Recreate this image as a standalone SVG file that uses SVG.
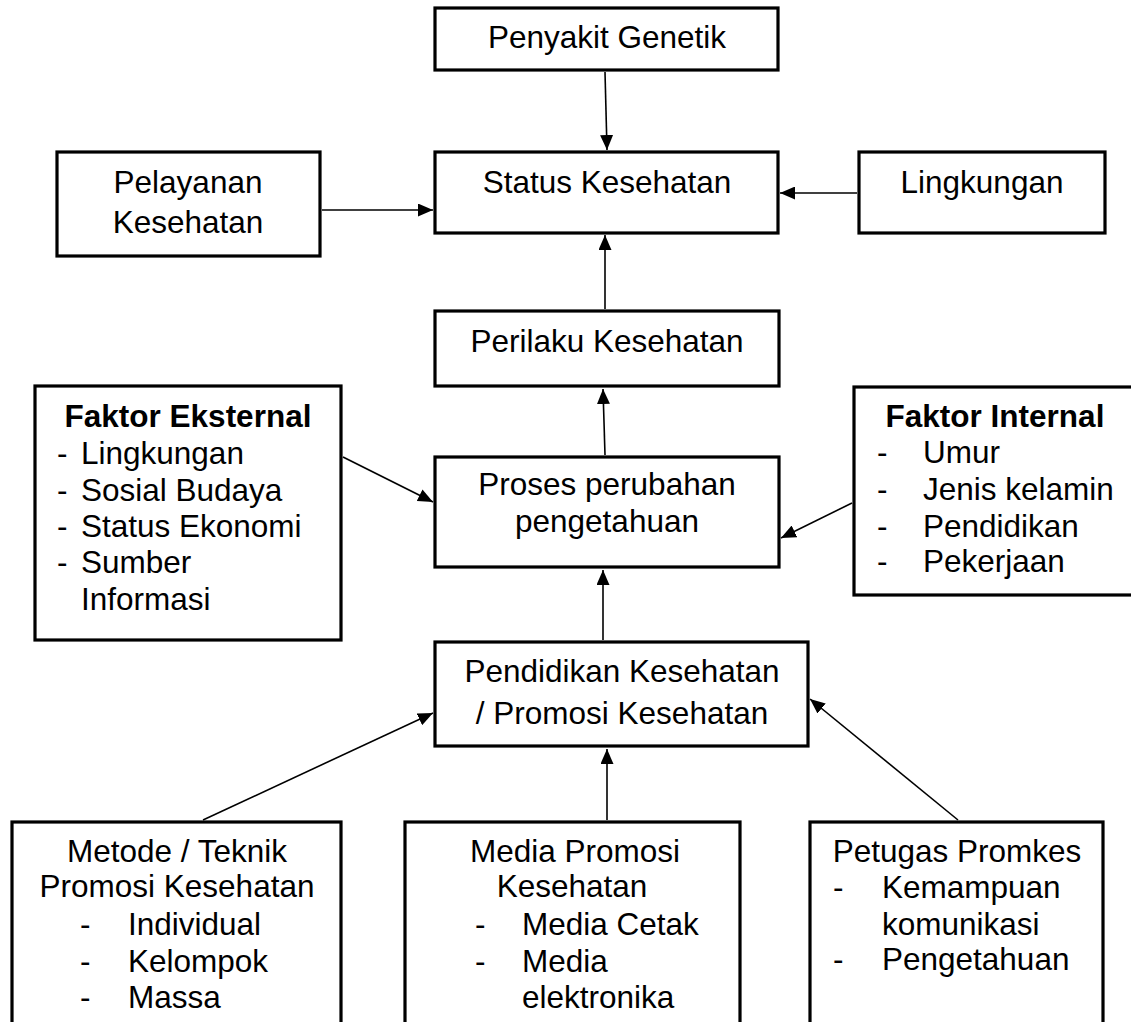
<svg xmlns="http://www.w3.org/2000/svg" width="1131" height="1022" viewBox="0 0 1131 1022">
<defs>
<marker id="arr" markerUnits="userSpaceOnUse" markerWidth="16" markerHeight="13" refX="15" refY="6.5" orient="auto">
<path d="M0,0 L15,6.5 L0,13 z" fill="#000"/>
</marker>
<style>
.box{fill:#fff;stroke:#000;stroke-width:3.2}
.t{font-family:"Liberation Sans",Arial,sans-serif;font-size:31.5px;fill:#000}
.c{text-anchor:middle}
.b{font-weight:bold}
.ln{stroke:#000;stroke-width:1.6;fill:none;marker-end:url(#arr)}
</style>
</defs>
<rect width="1131" height="1022" fill="#fff"/>
<g id="connectors">
<line class="ln" x1="605" y1="72" x2="607" y2="150"/>
<line class="ln" x1="322" y1="210" x2="433" y2="210"/>
<line class="ln" x1="857" y1="193" x2="780" y2="193"/>
<line class="ln" x1="605" y1="309" x2="605" y2="235"/>
<line class="ln" x1="605" y1="455" x2="603" y2="389"/>
<line class="ln" x1="343" y1="457" x2="433" y2="502"/>
<line class="ln" x1="852" y1="503" x2="781" y2="538"/>
<line class="ln" x1="603" y1="640" x2="603" y2="570"/>
<line class="ln" x1="203" y1="820" x2="433" y2="713"/>
<line class="ln" x1="607" y1="820" x2="607" y2="749"/>
<line class="ln" x1="958" y1="820" x2="810" y2="699"/>
</g>
<g id="penyakit">
<rect class="box" x="435" y="8" width="343" height="62"/>
<text class="t c" x="607" y="48">Penyakit Genetik</text>
</g>
<g id="status">
<rect class="box" x="435" y="152" width="343" height="81"/>
<text class="t c" x="607" y="193">Status Kesehatan</text>
</g>
<g id="pelayanan">
<rect class="box" x="57" y="152" width="263" height="104"/>
<text class="t c" x="188" y="193">Pelayanan</text>
<text class="t c" x="188" y="233">Kesehatan</text>
</g>
<g id="lingkungan">
<rect class="box" x="859" y="152" width="246" height="81"/>
<text class="t c" x="982" y="193">Lingkungan</text>
</g>
<g id="perilaku">
<rect class="box" x="435" y="311" width="344" height="75"/>
<text class="t c" x="607" y="352">Perilaku Kesehatan</text>
</g>
<g id="proses">
<rect class="box" x="435" y="457" width="344" height="110"/>
<text class="t c" x="607" y="495">Proses perubahan</text>
<text class="t c" x="607" y="532">pengetahuan</text>
</g>
<g id="pendidikan">
<rect class="box" x="435" y="642" width="373" height="104"/>
<text class="t c" x="622" y="682">Pendidikan Kesehatan</text>
<text class="t c" x="622" y="724">/ Promosi Kesehatan</text>
</g>
<g id="eksternal">
<rect class="box" x="35" y="386" width="306" height="254"/>
<text class="t c b" x="188" y="427">Faktor Eksternal</text>
<text class="t" x="57" y="464">-</text><text class="t" x="81" y="464">Lingkungan</text>
<text class="t" x="57" y="501">-</text><text class="t" x="81" y="501">Sosial Budaya</text>
<text class="t" x="57" y="537">-</text><text class="t" x="81" y="537">Status Ekonomi</text>
<text class="t" x="57" y="573">-</text><text class="t" x="81" y="573">Sumber</text>
<text class="t" x="81" y="610">Informasi</text>
</g>
<g id="internal">
<rect class="box" x="854" y="387" width="300" height="208"/>
<text class="t c b" x="995" y="427">Faktor Internal</text>
<text class="t" x="877" y="463">-</text><text class="t" x="923" y="463">Umur</text>
<text class="t" x="877" y="500">-</text><text class="t" x="923" y="500">Jenis kelamin</text>
<text class="t" x="877" y="537">-</text><text class="t" x="923" y="537">Pendidikan</text>
<text class="t" x="877" y="572">-</text><text class="t" x="923" y="572">Pekerjaan</text>
</g>
<g id="metode">
<rect class="box" x="12" y="822" width="329" height="220"/>
<text class="t c" x="177" y="862">Metode / Teknik</text>
<text class="t c" x="177" y="897">Promosi Kesehatan</text>
<text class="t" x="80" y="935">-</text><text class="t" x="128" y="935">Individual</text>
<text class="t" x="80" y="972">-</text><text class="t" x="128" y="972">Kelompok</text>
<text class="t" x="80" y="1008">-</text><text class="t" x="128" y="1008">Massa</text>
</g>
<g id="media">
<rect class="box" x="405" y="822" width="335" height="220"/>
<text class="t c" x="575" y="862">Media Promosi</text>
<text class="t c" x="572" y="897">Kesehatan</text>
<text class="t" x="475" y="935">-</text><text class="t" x="522" y="935">Media Cetak</text>
<text class="t" x="475" y="972">-</text><text class="t" x="522" y="972">Media</text>
<text class="t" x="522" y="1008">elektronika</text>
</g>
<g id="petugas">
<rect class="box" x="810" y="822" width="293" height="220"/>
<text class="t c" x="957" y="862">Petugas Promkes</text>
<text class="t" x="833" y="898">-</text><text class="t" x="882" y="898">Kemampuan</text>
<text class="t" x="882" y="935">komunikasi</text>
<text class="t" x="833" y="970">-</text><text class="t" x="882" y="970">Pengetahuan</text>
</g>
</svg>
